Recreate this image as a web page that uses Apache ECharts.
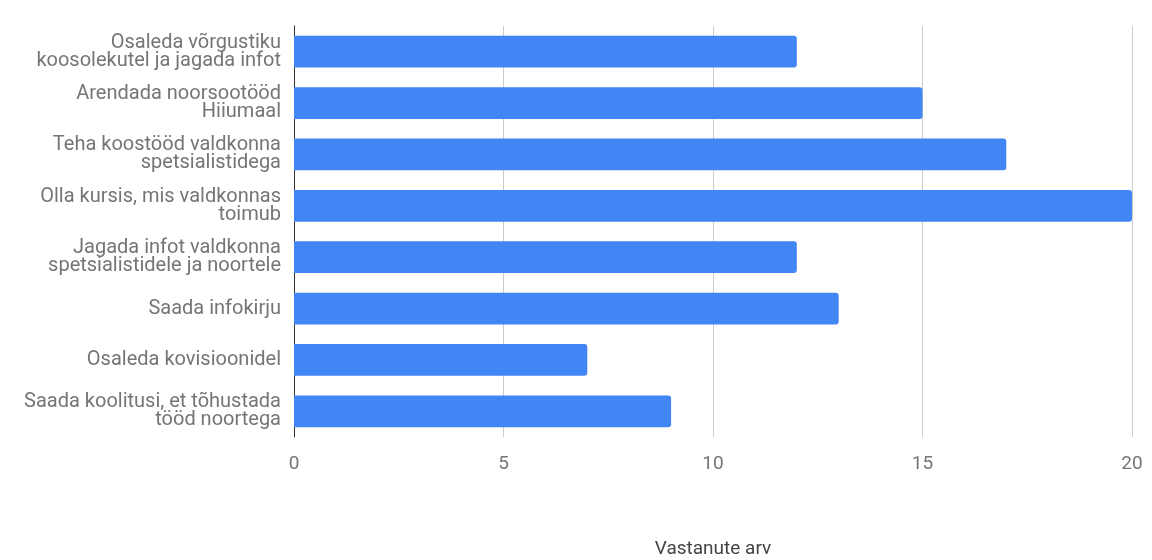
<!DOCTYPE html>
<html><head><meta charset="utf-8">
<script src="https://cdn.jsdelivr.net/npm/echarts@6/dist/echarts.min.js"></script>
<style>html,body{margin:0;padding:0;background:#fff}#c{width:1152px;height:560px}</style>
</head><body><div id="c"></div>
<script>
const categories = [
  "Osaleda võrgustiku\nkoosolekutel ja jagada infot",
  "Arendada noorsootööd\nHiiumaal",
  "Teha koostööd valdkonna\nspetsialistidega",
  "Olla kursis, mis valdkonnas\ntoimub",
  "Jagada infot valdkonna\nspetsialistidele ja noortele",
  "Saada infokirju",
  "Osaleda kovisioonidel",
  "Saada koolitusi, et tõhustada\ntööd noortega"
];
const values = [12, 15, 17, 20, 12, 13, 7, 9];
const xTicks = [0, 5, 10, 15, 20];
const axisName = "Vastanute arv";

const chart = echarts.init(document.getElementById('c'));
chart.setOption({
  animation: false,
  textStyle: { fontFamily: 'Roboto' },
  grid: { left: 294, right: 20, top: 26, bottom: 123, containLabel: false, outerBoundsMode: 'none' },
  xAxis: {
    type: 'value', min: xTicks[0], max: xTicks[xTicks.length - 1], interval: 5,
    name: axisName, nameLocation: 'middle', nameGap: 103,
    nameTextStyle: { color: '#444', fontSize: 19, fontFamily: 'Roboto' },
    axisLine: { show: false }, axisTick: { show: false },
    axisLabel: { color: '#757575', fontSize: 19, margin: 18 },
    splitLine: { lineStyle: { color: '#cccccc', width: 1 } }
  },
  yAxis: {
    type: 'category', data: categories, inverse: true,
    axisLine: { show: true, lineStyle: { color: '#333', width: 1 } },
    axisTick: { show: false },
    axisLabel: { color: '#757575', fontSize: 20, margin: 13, lineHeight: 18, align: 'right' }
  },
  series: [{
    type: 'bar', data: values, barWidth: '62%',
    itemStyle: { color: '#4285f4', borderRadius: [0, 3, 3, 0] }
  }]
});
</script></body></html>
